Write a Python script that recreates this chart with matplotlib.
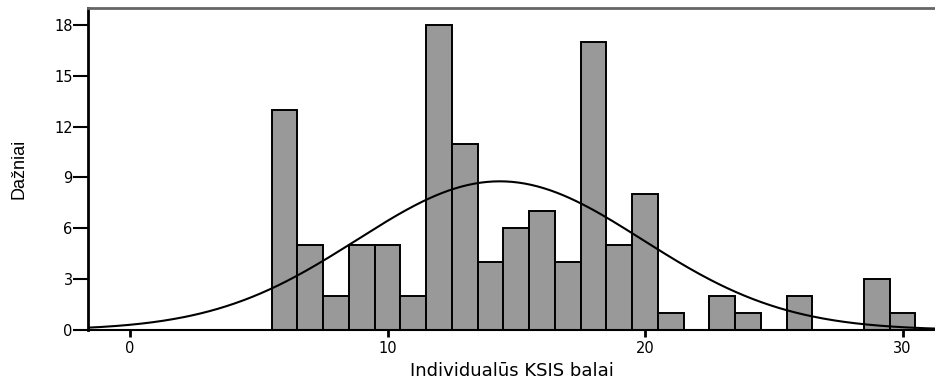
import numpy as np
import matplotlib.pyplot as plt

plt.rcParams['font.family'] = ['DejaVu Sans']

# score values and their frequencies
scores = [6, 7, 8, 9, 10, 11, 12, 13, 14, 15, 16, 17, 18, 19, 20, 21, 22, 23, 24, 25, 26, 27, 28, 29, 30]
counts = [13, 5, 2, 5, 5, 2, 18, 11, 4, 6, 7, 4, 17, 5, 8, 1, 0, 2, 1, 0, 2, 0, 0, 3, 1]
x_ticks = [0, 10, 20, 30]
y_ticks = [0, 3, 6, 9, 12, 15, 18]

scores = np.array(scores)
counts = np.array(counts)

# normal curve fitted to the data (as SPSS draws it)
n = counts.sum()
mean = (scores * counts).sum() / n
sd = np.sqrt(((scores - mean) ** 2 * counts).sum() / (n - 1))

fig = plt.figure(figsize=(9.35, 3.81), dpi=100)
ax = fig.add_axes([88 / 935, 51 / 381, 847 / 935, 322 / 381])

ax.bar(scores, counts, width=1.0, color='#999999', edgecolor='black', linewidth=1.4, zorder=2)

xs = np.linspace(-1.7, 31.3, 400)
ys = n * np.exp(-0.5 * ((xs - mean) / sd) ** 2) / (sd * np.sqrt(2 * np.pi))
ax.plot(xs, ys, color='black', linewidth=1.5, zorder=3)

ax.set_xlim(-1.63, 31.26)
ax.set_ylim(0, 19)
ax.set_xticks(x_ticks)
ax.set_yticks(y_ticks)
ax.tick_params(axis='y', direction='out', length=11, width=1.5, labelsize=10.5, pad=0)
ax.tick_params(axis='x', direction='out', length=5, width=2, labelsize=10.5, pad=3)

ax.spines['right'].set_visible(False)
ax.spines['top'].set_color('#666666')
ax.spines['top'].set_linewidth(2)
ax.spines['left'].set_linewidth(2)
ax.spines['bottom'].set_linewidth(1.5)

ax.set_xlabel('Individualūs KSIS balai', fontsize=13, labelpad=4)
ax.set_ylabel('Dažniai', fontsize=13, labelpad=19, family=['Liberation Sans', 'DejaVu Sans'])

fig.savefig('out.png', dpi=100)
